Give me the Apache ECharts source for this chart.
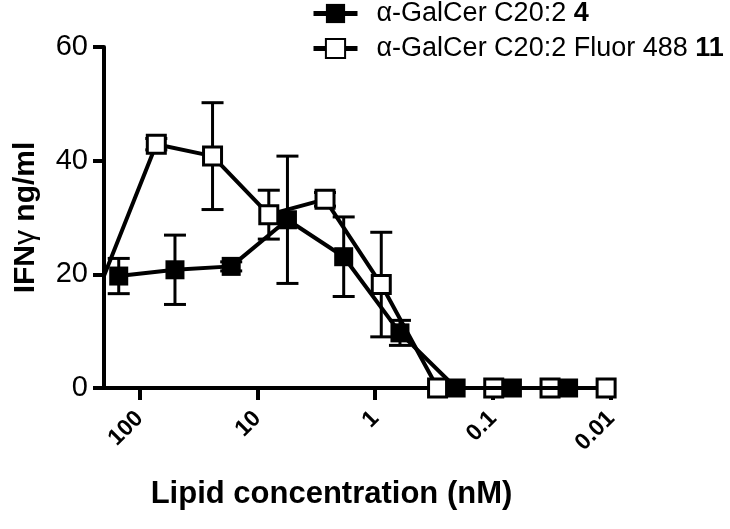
<!DOCTYPE html>
<html><head><meta charset="utf-8">
<script src="https://cdn.jsdelivr.net/npm/echarts@6/dist/echarts.min.js"></script>
<style>html,body{margin:0;padding:0;background:#fff}#c{width:730px;height:529px}</style>
</head><body><div id="c"></div>
<script>
// Tick values
const xTickValues = [100, 10, 1, 0.1, 0.01];
const yTickMin = 0, yTickMax = 60, yTickStep = 20;

// Series: α-GalCer C20:2 4 (filled squares)
const concFilled = [150, 50, 16.67, 5.556, 1.852, 0.617, 0.206, 0.0686, 0.0229];
const meanFilled = [19.7, 20.8, 21.4, 29.6, 23.1, 9.7, 0, 0, 0];
const errFilled  = [3.1, 6.1, 0.8, 11.2, 7.0, 2.2, 0, 0, 0];

// Series: α-GalCer C20:2 Fluor 488 11 (open squares)
const concOpen = [216, 72, 24, 8, 2.667, 0.889, 0.296, 0.0988, 0.0329, 0.011];
const meanOpen = [18.0, 42.9, 40.8, 30.5, 33.2, 18.2, 0, 0, 0, 0];
const errOpen  = [0, 1.0, 9.4, 4.3, 1.2, 9.2, 0, 0, 0, 0];

const nameFilled = 'α-GalCer C20:2 4';
const nameOpen = 'α-GalCer C20:2 Fluor 488 11';

const FONT = 'Liberation Sans, Arial, sans-serif';

function errSeries(conc, mean, err, z) {
  const data = [];
  conc.forEach((c, i) => { if (err[i] > 0) data.push([c, mean[i] - err[i], mean[i] + err[i]]); });
  return {
    type: 'custom', silent: true, z: z, clip: true,
    data: data,
    encode: { x: 0, y: [1, 2] },
    renderItem: function (params, api) {
      const lo = api.coord([api.value(0), api.value(1)]);
      const hi = api.coord([api.value(0), api.value(2)]);
      const w = 11;
      const st = { stroke: '#000', lineWidth: 3 };
      return { type: 'group', children: [
        { type: 'line', shape: { x1: hi[0], y1: hi[1], x2: lo[0], y2: lo[1] }, style: st },
        { type: 'line', shape: { x1: hi[0] - w, y1: hi[1], x2: hi[0] + w, y2: hi[1] }, style: st },
        { type: 'line', shape: { x1: lo[0] - w, y1: lo[1], x2: lo[0] + w, y2: lo[1] }, style: st }
      ]};
    }
  };
}

const chart = echarts.init(document.getElementById('c'), null, { renderer: 'canvas' });
chart.setOption({
  animation: false,
  backgroundColor: '#fff',
  grid: { left: 104, right: 119, top: 47, bottom: 141, containLabel: false },
  legend: {
    data: [nameFilled, nameOpen],
    orient: 'vertical',
    left: 311, top: 0, padding: 0,
    itemWidth: 44, itemHeight: 24, itemGap: 8,
    selectedMode: false,
    lineStyle: { width: 5 },
    formatter: function (name) {
      const i = name.lastIndexOf(' ');
      return '{n|' + name.slice(0, i + 1) + '}{b|' + name.slice(i + 1) + '}';
    },
    textStyle: {
      padding: [0, 0, 0, 14],
      rich: {
        n: { fontSize: 27, fontFamily: FONT, color: '#000' },
        b: { fontSize: 27, fontFamily: FONT, color: '#000', fontWeight: 'bold' }
      }
    }
  },
  xAxis: {
    type: 'log', logBase: 10, inverse: true,
    min: 0.01, max: 200,
    name: 'Lipid concentration (nM)',
    nameLocation: 'middle', nameGap: 91,
    nameTextStyle: { fontSize: 31, fontWeight: 'bold', fontFamily: FONT, color: '#000', padding: [0, 52, 0, 0] },
    axisLine: { lineStyle: { color: '#000', width: 4 } },
    axisTick: { customValues: xTickValues, length: 12, lineStyle: { color: '#000', width: 4 } },
    splitLine: { show: false },
    axisLabel: {
      customValues: xTickValues,
      rotate: 45, margin: 27,
      fontSize: 23, fontWeight: 'bold', fontFamily: FONT, color: '#000',
      formatter: function (v) { return String(parseFloat(Number(v).toPrecision(6))); }
    }
  },
  yAxis: {
    type: 'value', min: yTickMin, max: yTickMax, interval: yTickStep,
    name: '{b|IFN}{g|γ}{b| ng/ml}',
    nameLocation: 'middle', nameGap: 63,
    nameTextStyle: {
      rich: {
        b: { fontSize: 30, fontWeight: 'bold', fontFamily: FONT, color: '#000' },
        g: { fontSize: 30, fontFamily: FONT, color: '#000' }
      }
    },
    axisLine: { show: true, lineStyle: { color: '#000', width: 4 } },
    axisTick: { show: true, length: 11, lineStyle: { color: '#000', width: 4 } },
    splitLine: { show: false },
    axisLabel: { fontSize: 29, fontFamily: FONT, color: '#000', margin: 16 }
  },
  series: [
    errSeries(concOpen, meanOpen, errOpen, 2),
    errSeries(concFilled, meanFilled, errFilled, 2),
    {
      type: 'line', name: nameOpen, z: 3,
      data: concOpen.map((c, i) => [c, meanOpen[i]]),
      symbol: 'rect', symbolSize: 18, showSymbol: true, showAllSymbol: true, clip: true,
      lineStyle: { color: '#000', width: 4 },
      itemStyle: { color: '#fff', borderColor: '#000', borderWidth: 3 }
    },
    {
      type: 'line', name: nameFilled, z: 4,
      data: concFilled.map((c, i) => [c, meanFilled[i]]),
      symbol: 'rect', symbolSize: 19, showSymbol: true, showAllSymbol: true, clip: true,
      lineStyle: { color: '#000', width: 4 },
      itemStyle: { color: '#000', borderColor: '#000', borderWidth: 0 }
    }
  ]
});
</script>
</body></html>
